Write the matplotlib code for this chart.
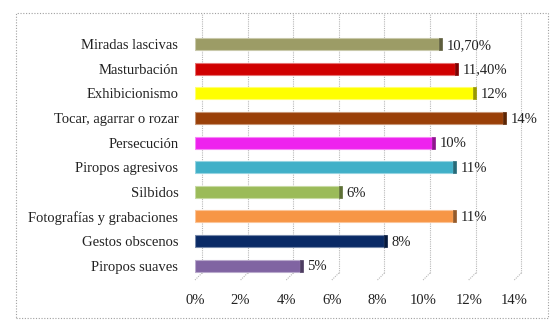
import matplotlib
matplotlib.use("Agg")
import matplotlib.pyplot as plt
from matplotlib.lines import Line2D
from matplotlib.patches import Rectangle
from matplotlib.transforms import offset_copy
import matplotlib.colors as mcolors

plt.rcParams['font.family'] = ['Liberation Serif', 'DejaVu Serif']

# data, top to bottom as in the chart
categories = ["Miradas lascivas", "Masturbación", "Exhibicionismo",
              "Tocar, agarrar o rozar", "Persecución", "Piropos agresivos",
              "Silbidos", "Fotografías y grabaciones", "Gestos obscenos",
              "Piropos suaves"]
values = [10.7, 11.4, 12.2, 13.5, 10.4, 11.3, 6.3, 11.3, 8.3, 4.6]
value_labels = ["10,70%", "11,40%", "12%", "14%", "10%", "11%", "6%",
                "11%", "8%", "5%"]
colors = ["#9c9c66", "#d00000", "#ffff00", "#9a4008", "#ee22ee",
          "#40b0c8", "#9bbb59", "#f79646", "#0a2a66", "#8064a2"]
xticks = [0, 2, 4, 6, 8, 10, 12, 14]
xtick_labels = ["0%", "2%", "4%", "6%", "8%", "10%", "12%", "14%"]

W, H = 550, 327
fig = plt.figure(figsize=(W / 100, H / 100), dpi=100)

# dotted outer frame
fig.add_artist(Rectangle((16 / W, 1 - 318 / H), 532 / W, 305 / H,
                         transform=fig.transFigure, fill=False,
                         edgecolor="#a0a0a0", lw=0.8, linestyle=(0, (1, 1.5))))

ax = fig.add_axes([195 / W, 1 - 280 / H, 333 / W, 266 / H])
ax.set_xlim(0, 14.6)
ax.set_ylim(-0.58, 10.22)
for s in ax.spines.values():
    s.set_visible(False)

n = len(categories)
ypos = [n - 1 - i for i in range(n)]

# back-wall gridlines and floor diagonals (3D look)
dx, dy = 7, 7
back = offset_copy(ax.transData, fig=fig, x=dx, y=dy, units='dots')
y0 = ax.get_ylim()[0]
ax.vlines(xticks, y0, 10.22 - 0.3, transform=back, color="#b8b8b8",
          lw=0.8, linestyle=(0, (1, 1)), clip_on=False, zorder=0)
fig.canvas.draw()
for t in xticks:
    px, py = ax.transData.transform((t, y0))
    fig.add_artist(Line2D([px, px + dx], [py, py + dy], transform=None,
                          color="#b8b8b8", lw=0.8, linestyle=(0, (1, 1))))

# bars with a darker side face
h = 0.49
depth = 0.13
for y, v, c, lab in zip(ypos, values, colors, value_labels):
    rgb = mcolors.to_rgb(c)
    dark = tuple(x * 0.6 for x in rgb)
    light = tuple(x + (1 - x) * 0.45 for x in rgb)
    ax.barh(y, v, height=h, color=c, edgecolor=light, lw=0.8, zorder=3)
    ax.barh(y, depth, left=v, height=h, color=dark, edgecolor=dark,
            lw=0.5, zorder=3)
    ax.text(v + depth + 0.2, y - 0.05, lab, va="center", ha="left",
            fontsize=10.5, color="#222222")

ax.set_yticks(ypos)
ax.set_yticklabels(categories, fontsize=10.5, color="#222222")
ax.set_xticks(xticks)
ax.set_xticklabels(xtick_labels, fontsize=10.5, color="#222222")
ax.tick_params(axis='both', length=0)
ax.tick_params(axis='y', pad=12)
ax.tick_params(axis='x', pad=10)

fig.savefig("out.png", dpi=100)
